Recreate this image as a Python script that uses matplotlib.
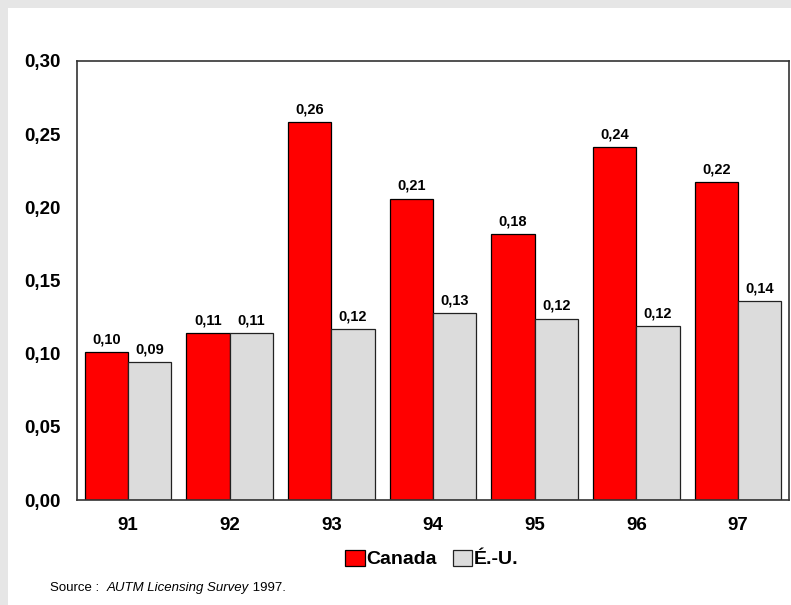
import numpy as np
import matplotlib.pyplot as plt
from matplotlib.patches import Rectangle

plt.rcParams['font.family'] = ['Liberation Sans', 'DejaVu Sans']

years = ["91", "92", "93", "94", "95", "96", "97"]
canada = [0.101, 0.114, 0.258, 0.206, 0.182, 0.241, 0.217]
us = [0.094, 0.114, 0.117, 0.128, 0.124, 0.119, 0.136]
series_names = ["Canada", "É.-U."]
y_ticks = [0.00, 0.05, 0.10, 0.15, 0.20, 0.25, 0.30]

def fr(v):
    return f"{v:.2f}".replace(".", ",")

fig = plt.figure(figsize=(7.91, 6.05), dpi=100, facecolor="white")
# grey strips along the top and left edges
fig.patches.append(Rectangle((0, 0), 8 / 791, 1, transform=fig.transFigure,
                             facecolor="#e6e6e6", edgecolor="none", zorder=-10))
fig.patches.append(Rectangle((0, 1 - 8 / 605), 1, 8 / 605, transform=fig.transFigure,
                             facecolor="#e6e6e6", edgecolor="none", zorder=-10))

ax = fig.add_axes([77 / 791, 1 - 500 / 605, 712 / 791, 439 / 605])

x = np.arange(len(years))
w = 0.426
b1 = ax.bar(x - w / 2, canada, w, color="#ff0000", edgecolor="black", linewidth=0.9,
            label=series_names[0])
b2 = ax.bar(x + w / 2, us, w, color="#dcdcdc", edgecolor="#222222", linewidth=0.9,
            label=series_names[1])

for bars, vals in ((b1, canada), (b2, us)):
    ax.bar_label(bars, labels=[fr(v) for v in vals], padding=4,
                 fontsize=10.5, fontweight="bold")

ax.set_xlim(-0.5, len(years) - 0.5)
ax.set_ylim(0, 0.30)
ax.set_yticks(y_ticks)
ax.set_yticklabels([fr(v) for v in y_ticks], fontsize=13.5, fontweight="bold")
ax.set_xticks(x)
ax.set_xticklabels(years, fontsize=13.5, fontweight="bold")
ax.tick_params(axis="y", length=0, pad=12)
ax.tick_params(axis="x", length=0, pad=12)
for s in ax.spines.values():
    s.set_linewidth(1.2)
    s.set_color("#333333")

leg = fig.legend(loc="center", bbox_to_anchor=(432 / 791, 1 - 559 / 605), ncol=2,
                 frameon=False, handlelength=1.0, handleheight=0.9, handletextpad=0.1,
                 columnspacing=0.8, prop={"size": 14, "weight": "bold"})

# source line: plain / italic / plain pieces placed one after another
fig.canvas.draw()
r = fig.canvas.get_renderer()
xpos = 50 / 791
ypos = 1 - 588 / 605
pieces = [("Source :  ", "normal"), ("AUTM Licensing Survey", "italic"), (" 1997.", "normal")]
for txt, style in pieces:
    t = fig.text(xpos, ypos, txt, fontsize=9.5, style=style, va="center", ha="left")
    bb = t.get_window_extent(renderer=r)
    xpos += bb.width / fig.bbox.width

fig.savefig("out.png", dpi=100)
